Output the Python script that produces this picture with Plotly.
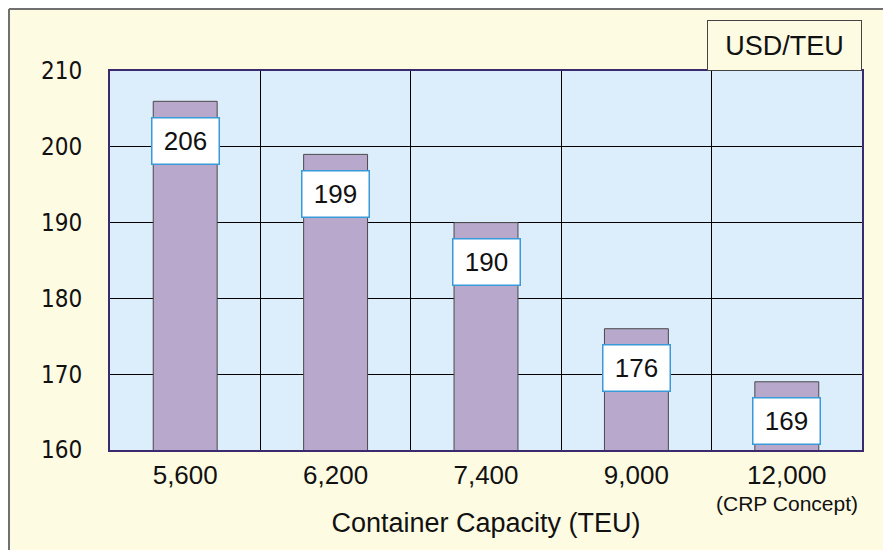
import plotly.graph_objects as go

capacities = ["5,600", "6,200", "7,400", "9,000", "12,000"]
capacity_notes = ["", "", "", "", "(CRP Concept)"]
cost_per_teu = [206, 199, 190, 176, 169]
y_ticks = [160, 170, 180, 190, 200, 210]

CREAM = "#fefbe3"
PLOT_BG = "#dcedfb"
BAR_FILL = "#b7a8cc"
FRAME = "#3b2a6e"
LABEL_BORDER = "#3a9ad9"

# the page adds an 8px body margin, so the figure is 8px smaller than the window
MARGIN = {"l": 102, "r": 29, "t": 63, "b": 100}

fig = go.Figure(
    data=[
        go.Bar(
            x=capacities,
            y=cost_per_teu,
            width=0.425,
            marker={"color": BAR_FILL, "line": {"color": "#4a4a4a", "width": 1}},
            hoverinfo="skip",
        )
    ]
)

# value boxes sit a little below each bar top, kept inside the plot
for cap, value in zip(capacities, cost_per_teu):
    fig.add_annotation(
        x=cap,
        y=max(value - 5.2, 163.2),
        text=str(value),
        showarrow=False,
        font={"size": 26, "color": "#111111"},
        bgcolor="white",
        bordercolor=LABEL_BORDER,
        borderwidth=1.5,
        borderpad=0,
        width=66,
        height=45,
    )

# second line under a tick label
for cap, note in zip(capacities, capacity_notes):
    if note:
        fig.add_annotation(
            x=cap,
            xref="x",
            yref="paper",
            y=-0.14,
            yanchor="middle",
            text=note,
            showarrow=False,
            font={"size": 21, "color": "#111111"},
        )

fig.add_annotation(
    xref="paper",
    yref="paper",
    x=1,
    y=1,
    xanchor="right",
    yanchor="bottom",
    text="USD/TEU",
    showarrow=False,
    font={"size": 27, "color": "#111111"},
    bgcolor=CREAM,
    bordercolor="#444444",
    borderwidth=1,
    borderpad=0,
    width=153,
    height=49,
)

# outer frame of the panel (left and top edges)
fig.add_shape(
    type="line", xref="paper", yref="paper",
    x0=-0.1343, x1=-0.1343, y0=-0.5, y1=1.1636,
    line={"color": "#707070", "width": 2},
)
fig.add_shape(
    type="line", xref="paper", yref="paper",
    x0=-0.1343, x1=1.1, y0=1.1636, y1=1.1636,
    line={"color": "#707070", "width": 2},
)

fig.update_layout(
    width=883,
    height=542,
    paper_bgcolor=CREAM,
    plot_bgcolor=PLOT_BG,
    margin=MARGIN,
    showlegend=False,
    font={"family": "Liberation Sans, Arial, sans-serif", "color": "#111111"},
    xaxis={
        "type": "category",
        "automargin": False,
        "tickson": "boundaries",
        "ticks": "",
        "ticklabelstandoff": 1,
        "showgrid": True,
        "gridcolor": "#000000",
        "gridwidth": 1,
        "showline": True,
        "linecolor": FRAME,
        "linewidth": 2,
        "mirror": True,
        "tickfont": {"size": 26},
        "title": {"text": "Container Capacity (TEU)", "font": {"size": 27}, "standoff": 24},
    },
    yaxis={
        "range": [160, 210],
        "automargin": False,
        "tickvals": y_ticks,
        "showgrid": True,
        "gridcolor": "#000000",
        "gridwidth": 1,
        "zeroline": False,
        "showline": True,
        "linecolor": FRAME,
        "linewidth": 2,
        "mirror": True,
        "ticks": "",
        "ticklabelstandoff": 21,
        "tickfont": {"size": 24, "family": "Liberation Sans Narrow, DejaVu Sans Condensed, sans-serif"},
    },
)

fig.write_html("out.html")
